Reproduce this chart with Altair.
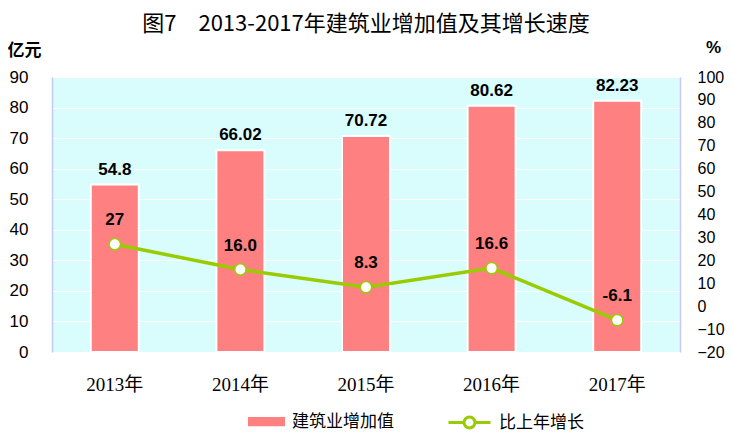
import altair as alt
import pandas as pd

years = ["2013年", "2014年", "2015年", "2016年", "2017年"]
values = [54.8, 66.02, 70.72, 80.62, 82.23]
value_labels = ["54.8", "66.02", "70.72", "80.62", "82.23"]
growth = [27, 16.0, 8.3, 16.6, -6.1]
growth_labels = ["27", "16.0", "8.3", "16.6", "-6.1"]
left_ticks = [0, 10, 20, 30, 40, 50, 60, 70, 80, 90]
right_ticks = [-20, -10, 0, 10, 20, 30, 40, 50, 60, 70, 80, 90, 100]
bar_name = "建筑业增加值"
line_name = "比上年增长"

df = pd.DataFrame({
    "year": years,
    "value": values,
    "vlabel": value_labels,
    "growth": growth,
    "glabel": growth_labels,
    "s1": [bar_name] * len(years),
    "s2": [line_name] * len(years),
})

BAR = "#FF8080"
LINE = "#99CC00"
AXIS_COL = "#C8C8FF"
NUM_FONT = "Liberation Sans"
CJK = "Noto Sans CJK SC"

base = alt.Chart(df)

x_axis = alt.Axis(title=None, labelAngle=0, domain=False, ticks=False,
                  labelFont="Liberation Serif, Noto Sans CJK SC",
                  labelFontSize=19, labelColor="black", labelPadding=23)
x_scale = alt.Scale(paddingInner=0, paddingOuter=0)


def xenc():
    return alt.X("year:N", sort=years, scale=x_scale, axis=x_axis)


left_axis = alt.Axis(title="亿元", titleAngle=0, titleX=-28, titleY=-27,
                     titleAlign="center", titleBaseline="middle",
                     titleFont=CJK, titleFontSize=17, titleFontWeight="bold",
                     titleColor="black",
                     values=left_ticks, labelOverlap=False,
                     labelFont=NUM_FONT, labelFontSize=17, labelColor="black",
                     labelPadding=24, ticks=False, domainColor=AXIS_COL,
                     domainWidth=1.5, grid=True, gridColor="white",
                     gridWidth=1.2, gridOpacity=1)
left_scale = alt.Scale(domain=[0, 90], nice=False)

right_axis = alt.Axis(title="%", titleAngle=0, titleX=33, titleY=-30,
                      titleAlign="center", titleBaseline="middle",
                      titleFont=NUM_FONT, titleFontSize=17, titleFontWeight="bold",
                      titleColor="black", orient="right",
                      values=right_ticks, labelOverlap=False,
                      labelFont=NUM_FONT, labelFontSize=16, labelColor="black",
                      labelPadding=17, ticks=False, domainColor=AXIS_COL,
                      domainWidth=1.5, grid=False)
right_scale = alt.Scale(domain=[-20, 100], nice=False)

bar_legend = alt.Legend(orient="none", legendX=196, legendY=326, title=None,
                        symbolType="M-1,-0.25H1V0.25H-1Z", symbolSize=1369,
                        symbolStrokeWidth=0, labelFont=CJK, labelFontSize=17,
                        labelColor="black", labelOffset=7)

line_legend = alt.Legend(orient="none", legendX=395, legendY=323, title=None,
                         symbolType="M-1,0H-0.26M0.26,0H1M-0.26,0A0.26,0.26 0 1,0 0.26,0A0.26,0.26 0 1,0 -0.26,0",
                         symbolSize=1764, symbolFillColor="white",
                         symbolStrokeWidth=3, labelFont=CJK, labelFontSize=17,
                         labelColor="black", labelOffset=7)

bars = base.mark_bar(size=48, stroke="white", strokeWidth=2).encode(
    x=xenc(),
    y=alt.Y("value:Q", scale=left_scale, axis=left_axis),
    fill=alt.Fill("s1:N", scale=alt.Scale(range=[BAR]), legend=bar_legend),
)

bar_text = base.mark_text(font=NUM_FONT, fontSize=17, fontWeight="bold",
                          baseline="bottom", dy=-6, color="black").encode(
    x=xenc(),
    y=alt.Y("value:Q", scale=left_scale, axis=left_axis),
    text="vlabel:N",
)

line = base.mark_line(strokeWidth=3.5).encode(
    x=xenc(),
    y=alt.Y("growth:Q", scale=right_scale, axis=right_axis),
    stroke=alt.Stroke("s2:N", scale=alt.Scale(range=[LINE]), legend=line_legend),
)

points = base.mark_point(filled=True, fill="white", size=130, strokeWidth=1.5,
                         opacity=1).encode(
    x=xenc(),
    y=alt.Y("growth:Q", scale=right_scale, axis=right_axis),
    stroke=alt.Stroke("s2:N", scale=alt.Scale(range=[LINE]), legend=line_legend),
)

line_text = base.mark_text(font=NUM_FONT, fontSize=17, fontWeight="bold",
                           baseline="bottom", dy=-15, color="black").encode(
    x=xenc(),
    y=alt.Y("growth:Q", scale=right_scale, axis=right_axis),
    text="glabel:N",
)

left = alt.layer(bars, bar_text)
right = alt.layer(line, points, line_text)

chart = alt.layer(left, right).resolve_scale(y="independent").properties(
    width=628, height=275,
    background="white",
    autosize=alt.AutoSizeParams(type="none"),
    padding={"left": 44, "top": 69, "right": 45, "bottom": 80},
    title=alt.TitleParams("图7　2013-2017年建筑业增加值及其增长速度",
                          font=CJK, fontSize=22, fontWeight="normal",
                          color="black", anchor="middle", frame="group",
                          offset=2),
).configure_view(fill="#D9FCFC", strokeWidth=0)

chart.save("out.html", embed_options={"renderer": "svg", "actions": False})
